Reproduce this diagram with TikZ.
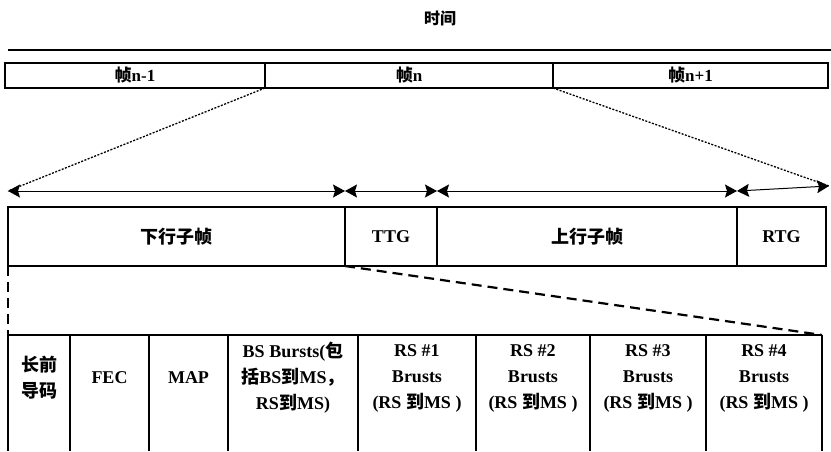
\documentclass[tikz,border=0pt]{standalone}
\usepackage{fontspec}
\setmainfont{Liberation Serif}
\newfontfamily\cjk{Noto Sans CJK SC}
\newcommand{\zh}[1]{{\cjk #1}}
\usetikzlibrary{arrows.meta,positioning}
\tikzset{
  frm/.style={
    draw, line width=1.6pt, minimum height=25pt, inner sep=0pt, outer sep=0pt,
    font=\fontsize{17}{20}\selectfont\bfseries
  },
  sub/.style={
    draw, line width=1.8pt, minimum height=59pt, inner sep=0pt, outer sep=0pt,
    font=\fontsize{18}{22}\selectfont\bfseries
  },
  cell/.style={
    minimum height=86pt, inner sep=0pt, outer sep=0pt, align=center,
    font=\fontsize{18}{26}\selectfont\bfseries
  },
  grid/.style={line width=2pt},
  span/.style={{Stealth[length=12pt,width=13pt,inset=2pt]}-{Stealth[length=12pt,width=13pt,inset=2pt]}, line width=1pt},
  dots/.style={dash pattern=on 2pt off 1.5pt, line width=1.3pt},
  dsh/.style={dash pattern=on 10pt off 6pt, line width=2.2pt}
}

\begin{document}
\begin{tikzpicture}[x=1pt,y=1pt]
  \useasboundingbox (0,0) rectangle (831,-451);
  \node[font=\fontsize{16}{18}\selectfont\bfseries] (time) at (440,-18) {\zh{时间}};
  \draw[line width=2pt] (8,-50) -- (831,-50);

  % frames
  \node[frm, minimum width=260pt, anchor=north west] (f1) at (5,-63) {\zh{帧}n-1};
  \node[frm, minimum width=288pt, right=0pt of f1] (f2) {\zh{帧}n};
  \node[frm, minimum width=275pt, right=0pt of f2] (f3) {\zh{帧}n+1};

  % sub-frames
  \node[sub, minimum width=337pt, anchor=north west] (dl) at (8,-207) {\zh{下行子帧}};
  \node[sub, minimum width=92pt, right=0pt of dl] (ttg) {TTG};
  \node[sub, minimum width=300pt, right=0pt of ttg] (ul) {\zh{上行子帧}};
  \node[sub, minimum width=89pt, right=0pt of ul] (rtg) {RTG};

  \coordinate[above=16pt of dl.north west] (a0);
  \coordinate[above=16pt of dl.north east] (a1);
  \coordinate[above=16pt of ttg.north east] (a2);
  \coordinate[above=16pt of ul.north east] (a3);
  \coordinate (a4) at (829,-186);

  \draw[dots] (f2.south west) -- (a0);
  \draw[dots] (f3.south west) -- (a4);
  \draw[span] (a0) -- (a1);
  \draw[span] (a1) -- (a2);
  \draw[span] (a2) -- (a3);
  \draw[span] (a3) -- (a4);

  % downlink bursts
  \node[cell, minimum width=62pt, anchor=north west] (b1) at (8,-335) {\zh{长前}\\\zh{导码}};
  \node[cell, minimum width=79pt, right=0pt of b1] (b2) {FEC};
  \node[cell, minimum width=79pt, right=0pt of b2] (b3) {MAP};
  \node[cell, minimum width=130pt, right=0pt of b3] (b4) {BS Bursts(\zh{包}\\\zh{括}BS\zh{到}MS\zh{，}\\RS\zh{到}MS)};
  \node[cell, minimum width=118pt, right=0pt of b4] (b5) {RS \#1\\Brusts\\(RS \zh{到}MS )};
  \node[cell, minimum width=114pt, right=0pt of b5] (b6) {RS \#2\\Brusts\\(RS \zh{到}MS )};
  \node[cell, minimum width=116pt, right=0pt of b6] (b7) {RS \#3\\Brusts\\(RS \zh{到}MS )};
  \node[cell, minimum width=116pt, right=0pt of b7] (b8) {RS \#4\\Brusts\\(RS \zh{到}MS )};

  \draw[grid] (b1.north west) -- (b8.north east);
  \foreach \i in {1,...,8}
    \draw[grid] (b\i.north west) -- ++(0,-116);
  \draw[grid] (b8.north east) -- ++(0,-116);

  \draw[dsh] (dl.south west) -- (b1.north west);
  \draw[dsh] (ttg.south west) -- (b8.north east);
\end{tikzpicture}
\end{document}
